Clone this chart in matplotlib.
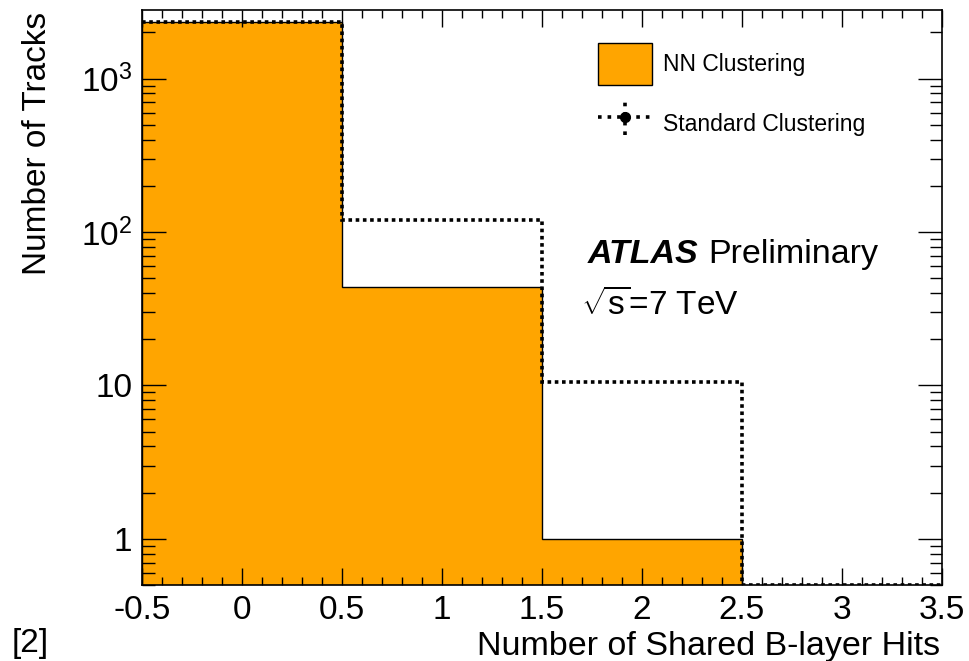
import numpy as np
import matplotlib
matplotlib.use('Agg')
import matplotlib.pyplot as plt
from matplotlib.patches import Patch
from matplotlib.legend_handler import HandlerErrorbar
from matplotlib.ticker import MultipleLocator, LogLocator, FixedLocator, FixedFormatter, NullFormatter

plt.rcParams['font.family'] = ['Liberation Sans', 'DejaVu Sans']
plt.rcParams['mathtext.fontset'] = 'custom'
plt.rcParams['mathtext.rm'] = 'Liberation Sans'
plt.rcParams['mathtext.it'] = 'Liberation Sans:italic'

# histogram data: shared B-layer hits per track
bin_edges = [-0.5, 0.5, 1.5, 2.5, 3.5]
nn_counts = [2330, 44, 1, 0]
std_counts = [2330, 120, 10.5, 0]

x_ticks = [-0.5, 0, 0.5, 1, 1.5, 2, 2.5, 3, 3.5]
x_ticklabels = ['-0.5', '0', '0.5', '1', '1.5', '2', '2.5', '3', '3.5']
y_ticks = [1, 10, 100, 1000]
y_ticklabels = ['1', '10', '$10^2$', '$10^3$']

y_min, y_max = 0.5, 2800
orange = '#FFA500'

fig = plt.figure(figsize=(9.7, 6.61), dpi=100)
ax = fig.add_axes([0.1464, 0.115, 0.8247, 0.870])
ax.set_yscale('log')

# NN clustering: filled histogram with thin outline
ax.stairs(nn_counts, bin_edges, fill=True, color=orange, baseline=1e-3)
ax.stairs(nn_counts, bin_edges, color='black', lw=1.0, baseline=1e-3)

# standard clustering: dotted line, empty bins sit on the frame bottom
std_drawn = np.clip(np.array(std_counts, dtype=float), y_min, None)
ax.stairs(std_drawn, bin_edges, color='black', lw=2.6, ls=(0, (1, 1)), baseline=None)

ax.set_xlim(bin_edges[0], bin_edges[-1])
ax.set_ylim(y_min, y_max)

ax.xaxis.set_major_locator(FixedLocator(x_ticks))
ax.xaxis.set_major_formatter(FixedFormatter(x_ticklabels))
ax.xaxis.set_minor_locator(MultipleLocator(0.1))
ax.yaxis.set_major_locator(FixedLocator(y_ticks))
ax.yaxis.set_major_formatter(FixedFormatter(y_ticklabels))
ax.yaxis.set_minor_locator(LogLocator(base=10, subs=np.arange(2, 10)))
ax.yaxis.set_minor_formatter(NullFormatter())

ax.tick_params(which='both', direction='in', top=True, right=True, width=1.0, labelsize=24)
ax.tick_params(axis='x', which='major', length=12, pad=7)
ax.tick_params(axis='x', which='minor', length=6)
ax.tick_params(axis='y', which='major', length=17, pad=7)
ax.tick_params(axis='y', which='minor', length=9)
for sp in ax.spines.values():
    sp.set_linewidth(1.2)

# legend
eb = ax.errorbar([np.nan], [np.nan], yerr=[1], fmt='o', color='black', ls=':', lw=2.6,
                 ms=7, elinewidth=2.6)
eb[2][0].set_linestyle(':')
handles = [Patch(facecolor=orange, edgecolor='black', lw=1.0), eb]
ax.legend(handles, ['NN Clustering', 'Standard Clustering'], loc='upper left',
          bbox_to_anchor=(0.544, 0.978), frameon=False, fontsize=16.5,
          handlelength=2.35, handleheight=2.4, labelspacing=0.83, handletextpad=0.5,
          handler_map={type(eb): HandlerErrorbar(yerr_size=0.75)})

ax.text(0.557, 0.560, 'ATLAS', transform=ax.transAxes, fontsize=24.5,
        fontweight='bold', fontstyle='italic', va='baseline')
ax.text(0.7075, 0.560, 'Preliminary', transform=ax.transAxes, fontsize=24.5, va='baseline')
ax.text(0.549, 0.470, r'$\sqrt{\mathrm{s}}$=7 TeV', transform=ax.transAxes, fontsize=24,
        va='baseline')

fig.text(940 / 970, (661 - 655) / 661, 'Number of Shared B-layer Hits', fontsize=24.5,
         ha='right', va='baseline')
fig.text(38 / 970, (661 - 12) / 661, 'Number of Tracks', fontsize=24, rotation=90,
         ha='center', va='top')
fig.text(12 / 970, (661 - 652) / 661, '[2]', fontsize=24, va='baseline')

plt.savefig('out.png', dpi=100)
